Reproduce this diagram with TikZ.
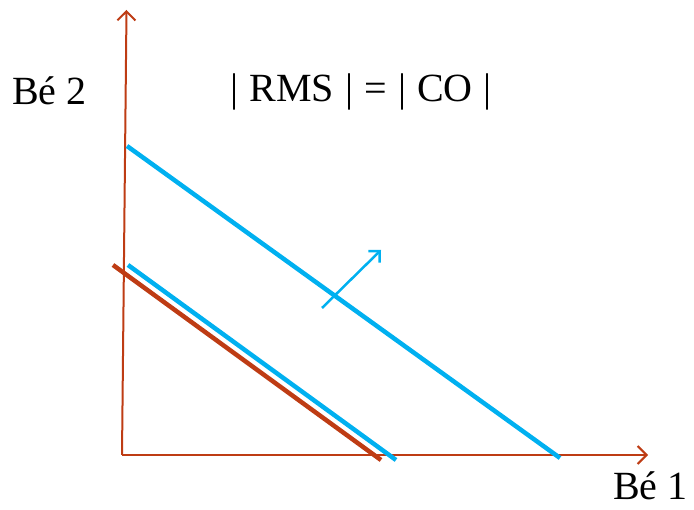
\documentclass[tikz,border=0pt]{standalone}
\usepackage{fontspec}
\setmainfont{Liberation Serif}
\usetikzlibrary{arrows.meta}
\definecolor{axbrown}{RGB}{190,60,20}
\definecolor{skyblue}{RGB}{0,176,240}
\newcommand{\gapsp}{\hspace{0.28em}}
\begin{document}
\begin{tikzpicture}[x=1pt,y=-1pt,
  axis/.style={draw=axbrown,line width=2pt,-{Straight Barb[length=9pt,width=18pt,line width=2pt]}},
  budget/.style={line width=4.5pt},
  lbl/.style={anchor=base west,inner sep=0pt,font=\fontsize{40}{48}\selectfont}]
\useasboundingbox (0,0) rectangle (694,510);
\coordinate (O) at (122,455);
\coordinate (ytop) at (126.5,10);
\coordinate (xend) at (648,455);
\draw[axis] (O) -- (ytop);
\draw[axis] (O) -- (xend);
\coordinate (b1) at (113,265);
\coordinate (b2) at (381,460);
\coordinate (l1) at (128,265);
\coordinate (l2) at (396,460);
\coordinate (u1) at (127,146);
\coordinate (u2) at (560,458);
\draw[budget,draw=axbrown] (b1) -- (b2);
\draw[budget,draw=skyblue] (l1) -- (l2);
\draw[budget,draw=skyblue] (u1) -- (u2);
\coordinate (a1) at (322,308);
\coordinate (a2) at (381,250);
\draw[skyblue,line width=2.5pt,-{Straight Barb[length=8pt,width=16pt,line width=2.5pt]}] (a1) -- (a2);
\node[lbl] (be2) at (12,105) {Bé 2};
\node[lbl] (eq) at (230,102) {|\gapsp RMS\gapsp|\gapsp=\gapsp|\gapsp CO\gapsp|};
\node[lbl,text depth=0pt] (be1) at (613,500) {Bé 1};
\end{tikzpicture}
\end{document}
